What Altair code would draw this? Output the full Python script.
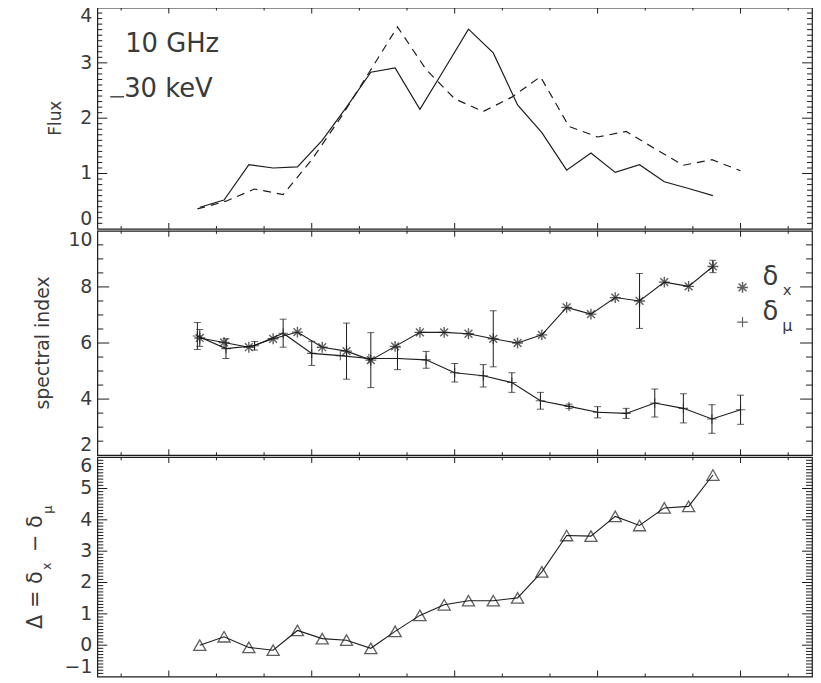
import altair as alt
import pandas as pd

# ---------------- data ----------------
t_x = [21.5, 26.6, 31.8, 36.9, 42.0, 47.2, 52.3, 57.4, 62.5, 67.7, 72.8,
       77.9, 83.1, 88.2, 93.3, 98.5, 103.6, 108.7, 113.8, 119.0, 124.1, 129.2]
t_mu = [21.0, 27.0, 33.0, 39.0, 45.0, 51.0, 57.0, 63.0, 69.0, 75.0,
        81.0, 87.0, 93.0, 99.0, 105.0, 111.0, 117.0, 123.0, 129.0, 135.0]

flux_30kev = [0.39, 0.52, 1.16, 1.10, 1.12, 1.60, 2.20, 2.83, 2.91, 2.16, 2.88,
              3.61, 3.18, 2.24, 1.74, 1.06, 1.37, 1.02, 1.16, 0.85, 0.73, 0.60]
flux_10ghz = [0.36, 0.50, 0.72, 0.62, 1.25, 2.00, 2.82, 3.65, 2.88, 2.35,
              2.12, 2.38, 2.75, 1.85, 1.66, 1.76, 1.45, 1.15, 1.25, 1.05]

delta_x = [6.18, 6.02, 5.85, 6.15, 6.39, 5.85, 5.71, 5.39, 5.88, 6.38, 6.38,
           6.33, 6.15, 6.00, 6.29, 7.27, 7.03, 7.62, 7.50, 8.17, 8.02, 8.73]
delta_x_err = [0.30, 0, 0, 0, 0, 0, 1.00, 0.98, 0, 0, 0,
               0, 1.00, 0, 0, 0, 0, 0, 0.98, 0, 0, 0.22]
delta_mu = [6.25, 5.80, 5.90, 6.35, 5.63, 5.55, 5.45, 5.45, 5.40, 4.94,
            4.83, 4.59, 3.94, 3.74, 3.53, 3.49, 3.86, 3.67, 3.29, 3.62]
delta_mu_err = [0.48, 0.35, 0.15, 0.50, 0.43, 0, 0, 0.40, 0.30, 0.33,
                0.40, 0.35, 0.30, 0.08, 0.20, 0.18, 0.50, 0.52, 0.51, 0.52]
diff = [0.00, 0.27, -0.07, -0.16, 0.47, 0.21, 0.16, -0.10, 0.44, 0.95, 1.29,
        1.42, 1.42, 1.51, 2.34, 3.50, 3.48, 4.11, 3.82, 4.38, 4.43, 5.43]

x_domain = [0, 150]
x_major = [15, 45, 75, 105, 135]
x_minor = [5, 25, 35, 55, 65, 85, 95, 115, 125, 145]

flux_domain = [0, 4]
flux_labels = [0, 1, 2, 3, 4]
flux_minor = [round(0.1 * i, 1) for i in range(1, 40) if i % 10]

si_domain = [2, 10]
si_labels = [2, 4, 6, 8, 10]
si_minor = [2.5, 3, 3.5, 4.5, 5, 5.5, 6.5, 7, 7.5, 8.5, 9, 9.5]

d_domain = [-1, 6]
d_labels = [-1, 0, 1, 2, 3, 4, 5, 6]
d_minor = [round(-1 + 0.1 * i, 1) for i in range(1, 70) if i % 10]

# ---------------- tables ----------------
df_x = pd.DataFrame({"t": t_x, "flux": flux_30kev, "dx": delta_x,
                     "dx_err": delta_x_err, "diff": diff})
df_x["lo"] = df_x["dx"] - df_x["dx_err"]
df_x["hi"] = df_x["dx"] + df_x["dx_err"]
df_mu = pd.DataFrame({"t": t_mu, "flux": flux_10ghz, "dmu": delta_mu,
                      "dmu_err": delta_mu_err})
df_mu["lo"] = df_mu["dmu"] - df_mu["dmu_err"]
df_mu["hi"] = df_mu["dmu"] + df_mu["dmu_err"]
df_x_err = df_x[df_x["dx_err"] > 0]
df_mu_err = df_mu[df_mu["dmu_err"] > 0]
one = pd.DataFrame({"k": [0]})

INK = "#1c1c1c"
TXT = "#3a3a3a"
FONT = "DejaVu Sans"
W = 720
H1, H2, H3 = 223, 226, 221

ASTERISK = "M-1,0L1,0M0,-1L0,1M-0.72,-0.72L0.72,0.72M-0.72,0.72L0.72,-0.72"
PLUS = "M-1,0L1,0M0,-1L0,1"


def xs():
    return alt.Scale(domain=x_domain, nice=False, zero=False)


def ys(dom):
    return alt.Scale(domain=dom, nice=False, zero=False)


def frame(ydom, labels, ymaj, ymin, height, ymaj_len, ymin_len):
    """Inward ticks on all four sides plus left tick labels, placed through the scales."""
    out = []
    xpp = (x_domain[1] - x_domain[0]) / W          # x data units per pixel
    ypp = (ydom[1] - ydom[0]) / height             # y data units per pixel
    for vals, ln in [(ymaj, ymaj_len), (ymin, ymin_len)]:
        rows = []
        for v in vals:
            rows.append({"v": v, "c": x_domain[0] + 0.5 * ln * xpp})
            rows.append({"v": v, "c": x_domain[1] - 0.5 * ln * xpp})
        out.append(alt.Chart(pd.DataFrame(rows)).mark_tick(
            orient="horizontal", size=ln, thickness=1, color=INK, opacity=1).encode(
            y=alt.Y("v:Q", scale=ys(ydom), axis=None),
            x=alt.X("c:Q", scale=xs(), axis=None)))
    for vals, ln in [(x_major, 6), (x_minor, 3)]:
        rows = []
        for v in vals:
            rows.append({"v": v, "c": ydom[0] + 0.5 * ln * ypp})
            rows.append({"v": v, "c": ydom[1] - 0.5 * ln * ypp})
        out.append(alt.Chart(pd.DataFrame(rows)).mark_tick(
            orient="vertical", size=ln, thickness=1, color=INK, opacity=1).encode(
            x=alt.X("v:Q", scale=xs(), axis=None),
            y=alt.Y("c:Q", scale=ys(ydom), axis=None)))
    lab = pd.DataFrame({"v": labels,
                        "s": [str(v).replace("-", "\u2212") for v in labels]})
    groups = [(lab.iloc[[0]], "bottom"), (lab.iloc[1:-1], "middle"),
              (lab.iloc[[-1]], "top")]
    for d, base in groups:
        out.append(alt.Chart(d).mark_text(font=FONT, fontSize=19, color=TXT,
                                          align="right", baseline=base).encode(
            y=alt.Y("v:Q", scale=ys(ydom), axis=None),
            x=alt.value(-5), text="s:N"))
    return out


def rot_text(txt, x, y, size):
    return alt.Chart(one).mark_text(font=FONT, fontSize=size, color=TXT, align="center",
                                    baseline="middle", angle=270).encode(
        x=alt.value(x), y=alt.value(y), text=alt.value(txt))


xq = alt.X("t:Q", scale=xs(), axis=None)

# ---------------- panel 1 : flux ----------------
p1_solid = alt.Chart(df_x).mark_line(color=INK, strokeWidth=1.2).encode(
    x=xq, y=alt.Y("flux:Q", scale=ys(flux_domain), axis=None))
p1_dash = alt.Chart(df_mu).mark_line(color=INK, strokeWidth=1.2, strokeDash=[8, 6]).encode(
    x=xq, y=alt.Y("flux:Q", scale=ys(flux_domain), axis=None))
txt_kw = dict(font=FONT, fontSize=26, color=TXT, align="left", baseline="alphabetic")
p1_t1 = alt.Chart(one).mark_text(**txt_kw).encode(
    x=alt.value(28), y=alt.value(45), text=alt.value("10 GHz"))
p1_t2 = alt.Chart(one).mark_text(**txt_kw).encode(
    x=alt.value(27), y=alt.value(90), text=alt.value("30 keV"))
p1_sample = alt.Chart(one).mark_rule(color=INK, strokeWidth=1.2).encode(
    x=alt.value(13), x2=alt.value(27), y=alt.value(90))
p1_title = rot_text("Flux", -42, H1 / 2, 17)

panel1 = alt.layer(
    p1_solid, p1_dash, p1_t1, p1_t2, p1_sample, p1_title,
    *frame(flux_domain, flux_labels, flux_labels[1:-1], flux_minor, H1, 10, 5),
).properties(width=W, height=H1)

# ---------------- panel 2 : spectral indices ----------------
def yq(field):
    return alt.Y(f"{field}:Q", scale=ys(si_domain), axis=None)


dx_line = alt.Chart(df_x).mark_line(color=INK, strokeWidth=1.1).encode(x=xq, y=yq("dx"))
dx_pts = alt.Chart(df_x).mark_point(shape=ASTERISK, size=120, filled=False,
                                    color=INK, strokeWidth=1.4).encode(x=xq, y=yq("dx"))
dx_bar = alt.Chart(df_x_err).mark_rule(color=INK, strokeWidth=1).encode(
    x=xq, y=yq("lo"), y2="hi")
dx_cap_lo = alt.Chart(df_x_err).mark_tick(orient="horizontal", size=7, thickness=1,
                                          color=INK).encode(x=xq, y=yq("lo"))
dx_cap_hi = alt.Chart(df_x_err).mark_tick(orient="horizontal", size=7, thickness=1,
                                          color=INK).encode(x=xq, y=yq("hi"))

mu_line = alt.Chart(df_mu).mark_line(color=INK, strokeWidth=1.1).encode(x=xq, y=yq("dmu"))
mu_pts = alt.Chart(df_mu).mark_point(shape=PLUS, size=90, filled=False,
                                     color=INK, strokeWidth=1.1).encode(x=xq, y=yq("dmu"))
mu_bar = alt.Chart(df_mu_err).mark_rule(color=INK, strokeWidth=1).encode(
    x=xq, y=yq("lo"), y2="hi")
mu_cap_lo = alt.Chart(df_mu_err).mark_tick(orient="horizontal", size=7, thickness=1,
                                           color=INK).encode(x=xq, y=yq("lo"))
mu_cap_hi = alt.Chart(df_mu_err).mark_tick(orient="horizontal", size=7, thickness=1,
                                           color=INK).encode(x=xq, y=yq("hi"))

leg_star = alt.Chart(one).mark_point(shape=ASTERISK, size=120, filled=False,
                                     color=INK, strokeWidth=1.5).encode(
    x=alt.value(650), y=alt.value(57))
leg_plus = alt.Chart(one).mark_point(shape=PLUS, size=110, filled=False,
                                     color=INK, strokeWidth=1.1).encode(
    x=alt.value(650), y=alt.value(92))
big = dict(font=FONT, color=TXT, align="center", baseline="middle")
leg_d1 = alt.Chart(one).mark_text(fontSize=26, **big).encode(
    x=alt.value(678), y=alt.value(47), text=alt.value("δ"))
leg_s1 = alt.Chart(one).mark_text(fontSize=15, **big).encode(
    x=alt.value(695), y=alt.value(60), text=alt.value("x"))
leg_d2 = alt.Chart(one).mark_text(fontSize=26, **big).encode(
    x=alt.value(678), y=alt.value(82), text=alt.value("δ"))
leg_s2 = alt.Chart(one).mark_text(fontSize=16, **big).encode(
    x=alt.value(695), y=alt.value(96), text=alt.value("μ"))
p2_title = rot_text("spectral index", -55, H2 / 2, 19)

panel2 = alt.layer(
    dx_line, mu_line, dx_bar, dx_cap_lo, dx_cap_hi, mu_bar, mu_cap_lo, mu_cap_hi,
    dx_pts, mu_pts, leg_star, leg_plus, leg_d1, leg_s1, leg_d2, leg_s2, p2_title,
    *frame(si_domain, si_labels, si_labels[1:-1], si_minor, H2, 12, 6),
).properties(width=W, height=H2)

# ---------------- panel 3 : difference ----------------
d_line = alt.Chart(df_x).mark_line(color=INK, strokeWidth=1.1).encode(
    x=xq, y=alt.Y("diff:Q", scale=ys(d_domain), axis=None))
d_pts = alt.Chart(df_x).mark_point(shape="triangle-up", size=150, filled=False,
                                   color=INK, strokeWidth=1.3).encode(
    x=xq, y=alt.Y("diff:Q", scale=ys(d_domain), axis=None))

ttl1 = rot_text("Δ = δ", -62, 144, 21)
ttl2 = rot_text("x", -51, 110, 12)
ttl3 = rot_text("− δ", -62, 77, 21)
ttl4 = rot_text("μ", -50, 53, 13)

panel3 = alt.layer(
    d_line, d_pts, ttl1, ttl2, ttl3, ttl4,
    *frame(d_domain, d_labels, d_labels[1:-1], d_minor, H3, 10, 6),
).properties(width=W, height=H3)

chart = alt.vconcat(panel1, panel2, panel3, spacing=0).properties(
    padding={"left": 16, "top": -4, "right": 0, "bottom": 0},
    background="white",
).configure_view(
    stroke=INK, strokeWidth=1.2
)

chart.save("out.html", embed_options={"renderer": "svg", "actions": False})
